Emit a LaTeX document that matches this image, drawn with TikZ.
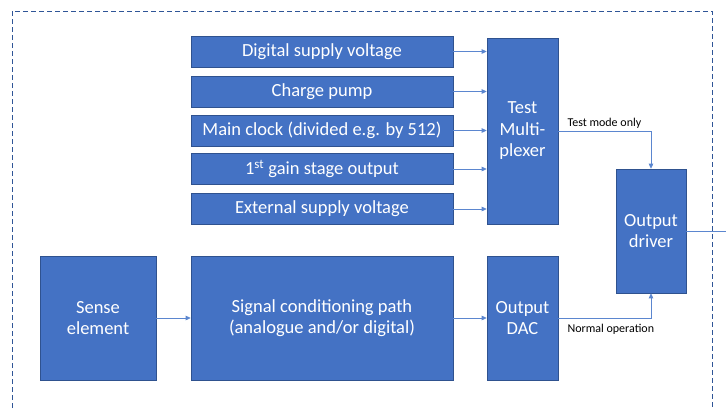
\documentclass[tikz,border=0pt]{standalone}
\usepackage{fontspec}
\setmainfont{Carlito}
\definecolor{officeblue}{HTML}{4472C4}
\definecolor{edgeblue}{HTML}{2F528F}
\definecolor{wireblue}{HTML}{5B86CF}
\definecolor{frameblue}{HTML}{2F5597}
\usetikzlibrary{arrows.meta,positioning,calc}
\tikzset{
    blockbox/.style={draw=edgeblue,line width=0.6pt,fill=officeblue,text=white,align=center,inner sep=0pt,
        font=\fontsize{18.5}{21.5}\selectfont},
    wire/.style={wireblue,line width=0.8pt,-{Triangle[length=5pt,width=4.5pt]}},
    tag/.style={font=\fontsize{12}{14}\selectfont,inner sep=1pt}
}

\begin{document}
\begin{tikzpicture}[x=1pt,y=-1pt]
    \useasboundingbox (0,0) rectangle (726,408);
    \draw[frameblue,line width=0.8pt,dash pattern=on 5pt off 3pt] (12,408) -- (12,11) -- (712,11) -- (712,408);
    \node[blockbox,minimum width=262pt,minimum height=31pt] (digsup) at (322,51.5) {Digital supply voltage};
    \node[blockbox,minimum width=262pt,minimum height=31pt] (pump) at (322,91.5) {Charge pump};
    \node[blockbox,minimum width=262pt,minimum height=31pt] (clock) at (322,130.5) {Main clock (divided e.g. by 512)};
    \node[blockbox,minimum width=262pt,minimum height=31pt] (gain) at (322,169) {1\textsuperscript{st} gain stage output};
    \node[blockbox,minimum width=262pt,minimum height=31pt] (extsup) at (322,209) {External supply voltage};
    \node[blockbox,minimum width=71pt,minimum height=186pt] (mux) at (522.5,131) {Test\\Multi-\\plexer};
    \node[blockbox,minimum width=70pt,minimum height=124pt] (driver) at (651,231) {Output\\driver};
    \node[blockbox,minimum width=116pt,minimum height=124pt] (sense) at (98,318) {Sense\\element};
    \node[blockbox,minimum width=262pt,minimum height=124pt] (cond) at (322,318) {Signal conditioning path\\(analogue and/or digital)};
    \node[blockbox,minimum width=71pt,minimum height=124pt] (dac) at (522.5,318) {Output\\DAC};
    \coordinate (out) at (726,231);
    \foreach \src in {digsup,pump,clock,gain,extsup}
        \draw[wire] (\src.east) -- (\src.east -| mux.west);
    \draw[wire] (sense) -- (cond);
    \draw[wire] (cond) -- (dac);
    \draw[wire] (mux.east) -| (driver.north);
    \draw[wire] (dac.east) -| (driver.south);
    \draw[wireblue,line width=0.8pt] (driver.east) -- (out);
    \node[tag,anchor=south west] (testtag) at ($(mux.east)+(8,-1)$) {Test mode only};
    \node[tag,anchor=north west] (normtag) at ($(dac.east)+(8,5)$) {Normal operation};
\end{tikzpicture}
\end{document}
